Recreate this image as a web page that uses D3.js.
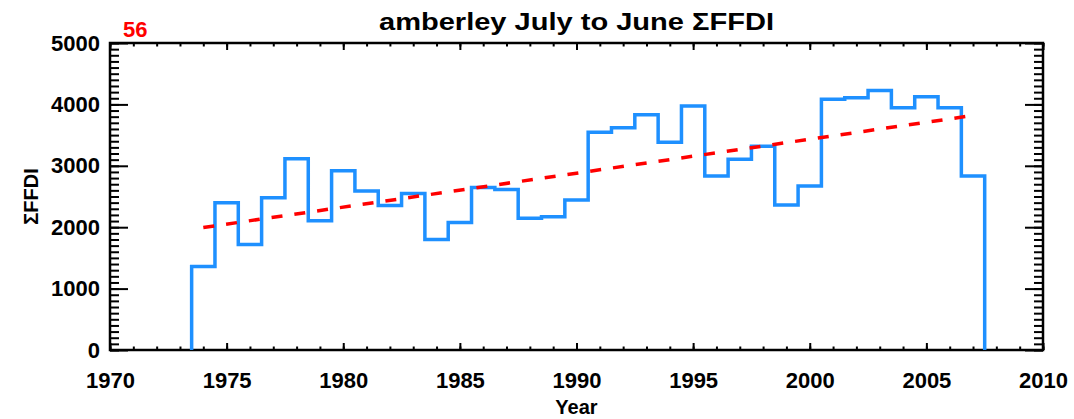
<!DOCTYPE html>
<html>
<head>
<meta charset="utf-8">
<script src="https://cdn.jsdelivr.net/npm/d3@7"></script>
<style>
  html, body { margin: 0; padding: 0; background: #fff; }
  svg { display: block; }
  text { font-family: "Liberation Sans", Arial, sans-serif; font-weight: bold; fill: #000; }
</style>
</head>
<body>
<svg id="chart" width="1074" height="419"></svg>
<script>
// ---- data ----
const years = [1974,1975,1976,1977,1978,1979,1980,1981,1982,1983,1984,1985,1986,1987,1988,1989,1990,
               1991,1992,1993,1994,1995,1996,1997,1998,1999,2000,2001,2002,2003,2004,2005,2006,2007];
const sumFFDI = [1360,2400,1720,2480,3115,2105,2920,2590,2355,2550,1800,2075,2645,2615,2145,2170,2445,
                 3545,3620,3830,3385,3975,2835,3105,3320,2360,2670,4085,4110,4225,3945,4125,3945,2835];
const trendYears = [1974, 2007];
const trendValues = [1995, 3820];
const xTickLabels = [1970,1975,1980,1985,1990,1995,2000,2005,2010];
const yTickLabels = [0,1000,2000,3000,4000,5000];
const titleText = "amberley July to June \u03A3FFDI";
const stationLabel = "56";
const xTitle = "Year";
const yTitle = "\u03A3FFDI";

// ---- layout ----
const svg = d3.select("#chart");
const x = d3.scaleLinear().domain([1970, 2010]).range([110, 1043]);
const y = d3.scaleLinear().domain([0, 5000]).range([350, 43]);
const [x0, x1] = x.range();
const [yb, yt] = y.range();

function styleAxis(g) {
  g.select(".domain").remove();
  g.selectAll(".tick line").attr("stroke", "#000").attr("stroke-width", 2);
  g.selectAll(".tick text").style("font-size", "22px").attr("fill", "#000");
}

const xMinor = d3.range(1970, 2011, 1);
const yMinor = d3.range(0, 5001, 100);

// bottom
svg.append("g").attr("transform", `translate(0,${yb})`)
  .call(d3.axisBottom(x).tickValues(xMinor).tickSize(-3.5).tickFormat(""))
  .call(styleAxis);
svg.append("g").attr("transform", `translate(0,${yb})`)
  .call(d3.axisBottom(x).tickValues(xTickLabels).tickSize(-7).tickPadding(22).tickFormat(d3.format("d")))
  .call(styleAxis);
// top
svg.append("g").attr("transform", `translate(0,${yt})`)
  .call(d3.axisTop(x).tickValues(xMinor).tickSize(-3.5).tickFormat(""))
  .call(styleAxis);
svg.append("g").attr("transform", `translate(0,${yt})`)
  .call(d3.axisTop(x).tickValues(xTickLabels).tickSize(-7).tickFormat(""))
  .call(styleAxis);
// left
svg.append("g").attr("transform", `translate(${x0},0)`)
  .call(d3.axisLeft(y).tickValues(yMinor).tickSize(-9).tickFormat(""))
  .call(styleAxis);
svg.append("g").attr("transform", `translate(${x0},0)`)
  .call(d3.axisLeft(y).tickValues(yTickLabels).tickSize(-18).tickPadding(10).tickFormat(d3.format("d")))
  .call(styleAxis);
// right
svg.append("g").attr("transform", `translate(${x1},0)`)
  .call(d3.axisRight(y).tickValues(yMinor).tickSize(-9).tickFormat(""))
  .call(styleAxis);
svg.append("g").attr("transform", `translate(${x1},0)`)
  .call(d3.axisRight(y).tickValues(yTickLabels).tickSize(-18).tickFormat(""))
  .call(styleAxis);

// frame
svg.append("rect")
  .attr("x", x0).attr("y", yt).attr("width", x1 - x0).attr("height", yb - yt)
  .attr("fill", "none").attr("stroke", "#000").attr("stroke-width", 2.5);

// ---- histogram-style step line ----
const stepPts = [[years[0] - 0.5, 0]];
years.forEach((yr, i) => {
  stepPts.push([yr - 0.5, sumFFDI[i]]);
  stepPts.push([yr + 0.5, sumFFDI[i]]);
});
stepPts.push([years[years.length - 1] + 0.5, 0]);

svg.append("path")
  .attr("d", d3.line().x(d => x(d[0])).y(d => y(d[1]))(stepPts))
  .attr("fill", "none")
  .attr("stroke", "#1E90FF")
  .attr("stroke-width", 3.5)
  .attr("stroke-linejoin", "miter");

// ---- trend line ----
svg.append("path")
  .attr("d", d3.line().x(d => x(d[0])).y(d => y(d[1]))(trendYears.map((t, i) => [t, trendValues[i]])))
  .attr("fill", "none")
  .attr("stroke", "#FF0000")
  .attr("stroke-width", 3.5)
  .attr("stroke-dasharray", "11,12");

// ---- text ----
svg.append("text").attr("x", (x0 + x1) / 2).attr("y", 30)
  .attr("text-anchor", "middle").style("font-size", "23px")
  .attr("textLength", 395).attr("lengthAdjust", "spacingAndGlyphs").text(titleText);
svg.append("text").attr("x", 123).attr("y", 37)
  .style("font-size", "22px").style("fill", "#FF0000").text(stationLabel);
svg.append("text").attr("x", (x0 + x1) / 2).attr("y", 414)
  .attr("text-anchor", "middle").style("font-size", "20px").text(xTitle);
svg.append("text").attr("transform", `translate(38,${(yt + yb) / 2}) rotate(-90)`)
  .attr("text-anchor", "middle").style("font-size", "20px").text(yTitle);
</script>
</body>
</html>
